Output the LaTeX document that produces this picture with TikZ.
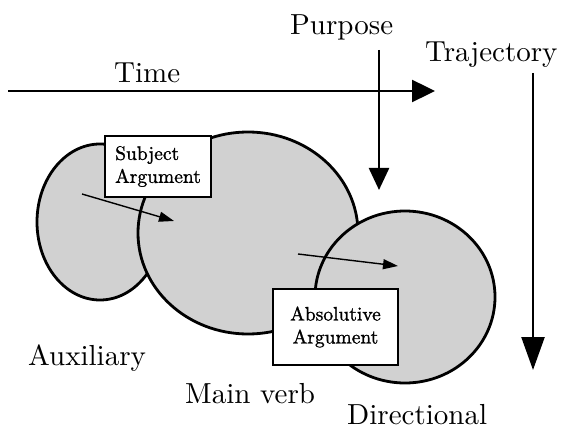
\documentclass[tikz,border=0pt]{standalone}
\usepackage{fontspec}
\setmainfont{lmroman10-regular}[Extension=.otf]
\newfontfamily\boxfont{lmroman10-regular}[Extension=.otf, FakeBold=1.2]
\usetikzlibrary{shapes.geometric,arrows.meta}
\definecolor{dotgray}{gray}{0.82}
\tikzset{
  lbl/.style={inner sep=0pt, font=\fontsize{29}{34}\selectfont},
  blob/.style={ellipse, draw=black, line width=2.8pt, fill=dotgray, inner sep=0pt},
  argbox/.style={draw=black, line width=2.8pt, fill=white, inner sep=0pt,
                 font=\boxfont\fontsize{19.5}{23}\selectfont},
  bigarrow/.style={line width=2.4pt, -{Triangle[length=23pt,width=22pt]}},
  smallarrow/.style={line width=1.4pt, -{Triangle[length=15pt,width=10pt]}},
}
\begin{document}
\begin{tikzpicture}[x=1pt, y=-1pt]
  \useasboundingbox (0,0) rectangle (561,430);

  % the three clause constituents
  \node[blob, minimum width=126pt, minimum height=156pt] (aux) at (100,222) {};
  \node[blob, minimum width=220pt, minimum height=202pt] (main) at (248,233) {};
  \node[blob, minimum width=180pt, minimum height=172pt] (dir) at (405,297) {};

  % flow from one constituent into the next
  \coordinate (auxout) at (82,194);
  \coordinate (mainin) at (174,221);
  \coordinate (mainout) at (298,254);
  \coordinate (dirin) at (398,266);
  \draw[smallarrow] (auxout) -- (mainin);
  \draw[smallarrow] (mainout) -- (dirin);

  % argument boxes
  \node[argbox, minimum width=106pt, minimum height=61pt, align=left] (subj) at (158,166.5)
       {Subject\\Argument};
  \node[argbox, minimum width=125pt, minimum height=76pt, align=center] (abs) at (335.5,327)
       {Absolutive\\Argument};

  % axes
  \coordinate (timeA) at (8,91);
  \coordinate (timeB) at (435,91);
  \coordinate (purpA) at (379,50);
  \coordinate (purpB) at (379,190);
  \coordinate (trajA) at (533,73);
  \coordinate (trajB) at (533,370);
  \draw[bigarrow] (timeA) -- (timeB);
  \draw[line width=2.4pt, -{Triangle[length=22pt,width=20pt]}] (purpA) -- (purpB);
  \draw[line width=2.4pt, -{Triangle[length=33pt,width=23pt]}] (trajA) -- (trajB);

  % labels
  \node[lbl, anchor=base west] (time) at (114,83) {Time};
  \node[lbl, anchor=base west] (purpose) at (290,35) {Purpose};
  \node[lbl, anchor=base west] (trajectory) at (425,62) {Trajectory};
  \node[lbl, anchor=base west] (auxlbl) at (28,365) {Auxiliary};
  \node[lbl, anchor=base west] (mainlbl) at (185,403) {Main verb};
  \node[lbl, anchor=base west] (dirlbl) at (347,424) {Directional};
\end{tikzpicture}
\end{document}
